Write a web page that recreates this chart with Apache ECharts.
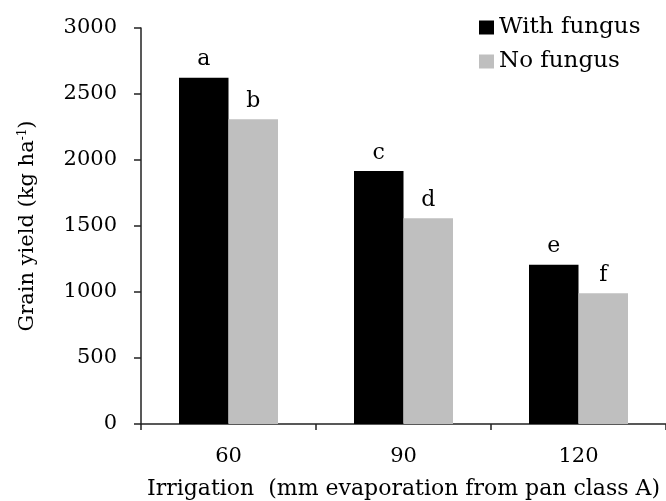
<!DOCTYPE html>
<html>
<head>
<meta charset="utf-8">
<script src="https://cdn.jsdelivr.net/npm/echarts@6/dist/echarts.min.js"></script>
<style>
html,body{margin:0;padding:0;background:#fff;}
#chart{width:666px;height:501px;}
</style>
</head>
<body>
<div id="chart"></div>
<script>
const categories = ['60', '90', '120'];
const withFungus = [2623, 1917, 1207];
const noFungus = [2308, 1558, 990];
const withLetters = ['a', 'c', 'e'];
const noLetters = ['b', 'd', 'f'];
const yTicks = [0, 500, 1000, 1500, 2000, 2500, 3000];

const FONT = 'DejaVu Serif';
const chart = echarts.init(document.getElementById('chart'));
chart.setOption({
  animation: false,
  backgroundColor: '#fff',
  grid: { left: 141, right: 0, top: 28, bottom: 77, containLabel: false, outerBoundsMode: 'none' },
  legend: {
    orient: 'vertical',
    left: 479, top: 16,
    padding: 0,
    icon: 'rect',
    itemWidth: 15, itemHeight: 14,
    itemGap: 11,
    textStyle: { fontFamily: FONT, fontSize: 23, color: '#000', padding: [0,0,0,0] },
    data: ['With fungus', 'No fungus']
  },
  xAxis: {
    type: 'category',
    data: categories,
    name: 'Irrigation  (mm evaporation from pan class A)',
    nameLocation: 'middle',
    nameGap: 54,
    nameTextStyle: { fontFamily: FONT, fontSize: 22, color: '#000' },
    axisLine: { lineStyle: { color: '#222', width: 1.5 } },
    axisTick: { show: true, length: 6, lineStyle: { color: '#222', width: 1.5 } },
    axisLabel: { fontFamily: FONT, fontSize: 21, color: '#000', margin: 22 }
  },
  yAxis: {
    type: 'value',
    min: yTicks[0], max: yTicks[yTicks.length - 1], interval: 500,
    name: 'Grain yield (kg ha{sup|-1})',
    nameLocation: 'middle',
    nameGap: 103,
    nameRotate: 90,
    nameTextStyle: {
      fontFamily: FONT, fontSize: 21, color: '#000',
      rich: { sup: { fontFamily: FONT, fontSize: 12, color: '#000', verticalAlign: 'top', padding: [0,0,9,0] } }
    },
    axisLine: { show: true, lineStyle: { color: '#222', width: 1.5 } },
    axisTick: { show: true, length: 7, lineStyle: { color: '#222', width: 1.5 } },
    axisLabel: { fontFamily: FONT, fontSize: 21, color: '#000', margin: 24, formatter: v => String(v) },
    splitLine: { show: false }
  },
  series: [
    {
      name: 'With fungus', type: 'bar',
      data: withFungus,
      barWidth: 49.5, barGap: '0%',
      itemStyle: { color: '#000' },
      label: { show: true, position: 'top', distance: 7, fontFamily: FONT, fontSize: 22, color: '#000',
        formatter: p => withLetters[p.dataIndex] }
    },
    {
      name: 'No fungus', type: 'bar',
      data: noFungus,
      barWidth: 49.5, barGap: '0%',
      itemStyle: { color: '#bfbfbf' },
      label: { show: true, position: 'top', distance: 7, fontFamily: FONT, fontSize: 22, color: '#000',
        formatter: p => noLetters[p.dataIndex] }
    }
  ]
});
</script>
</body>
</html>
